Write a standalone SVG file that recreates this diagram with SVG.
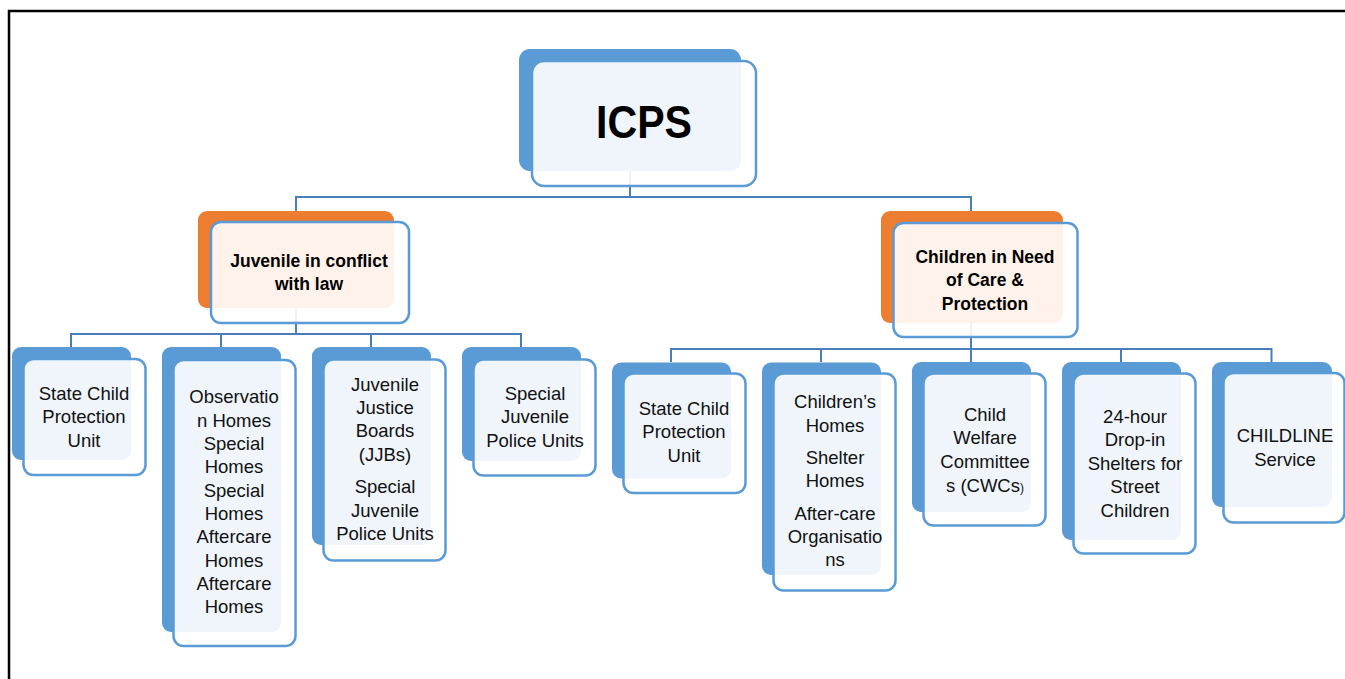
<svg xmlns="http://www.w3.org/2000/svg" width="1345" height="679" viewBox="0 0 1345 679">
  <style>
    .back-b { fill: #5b9bd5; }
    .back-o { fill: #ed7d31; }
    .front { fill: #ffffff; fill-opacity: 0.9; stroke: #5b9bd5; stroke-width: 2.5; }
    .conn { fill: none; stroke: #4a7ebb; stroke-width: 2; }
    .t { font-family: "Liberation Sans", Arial, sans-serif; font-size: 18.5px; fill: #111; text-anchor: middle; }
    .tb { font-family: "Liberation Sans", Arial, sans-serif; font-weight: bold; font-size: 17.5px; fill: #000; text-anchor: middle; }
    .title { font-family: "Liberation Sans", Arial, sans-serif; font-weight: bold; font-size: 47px; fill: #000; text-anchor: middle; }
  </style>

  <rect width="1345" height="679" fill="#ffffff"/>
  <!-- page frame -->
  <path d="M9,679 V11 H1345" fill="none" stroke="#000" stroke-width="2.5"/>

  <!-- connectors -->
  <g id="connectors" class="conn">
    <path d="M630,171 V197"/>
    <path d="M296,211 V197 H971 V211"/>
    <path d="M296,308 V334"/>
    <path d="M71,347 V334 H521 V347"/>
    <path d="M221,334 V347"/>
    <path d="M371,334 V347"/>
    <path d="M971,323 V349"/>
    <path d="M671,362 V349 H1271.5 V362"/>
    <path d="M821,349 V362"/>
    <path d="M971,349 V362"/>
    <path d="M1121,349 V362"/>
  </g>

  <!-- root -->
  <g id="icps">
    <rect class="back-b" x="519" y="49" width="222" height="122" rx="11"/>
    <rect class="front" x="532" y="61" width="224" height="125" rx="12"/>
    <text class="title" x="644" y="138" textLength="96" lengthAdjust="spacingAndGlyphs">ICPS</text>
  </g>

  <!-- branch heads -->
  <g id="juvenile-conflict">
    <rect class="back-o" x="198" y="211" width="196" height="97" rx="9"/>
    <rect class="front" x="211" y="222" width="198" height="101" rx="10"/>
    <text class="tb" x="309" y="266.7">Juvenile in conflict</text>
    <text class="tb" x="309" y="290">with law</text>
  </g>

  <g id="children-need-care">
    <rect class="back-o" x="881" y="211" width="182" height="112" rx="9"/>
    <rect class="front" x="893.5" y="223" width="184" height="114" rx="10"/>
    <text class="tb" x="985" y="262.7">Children in Need</text>
    <text class="tb" x="985" y="286">of Care &amp;</text>
    <text class="tb" x="985" y="310">Protection</text>
  </g>

  <!-- left branch -->
  <g id="l-scpu">
    <rect class="back-b" x="12" y="347" width="119" height="113" rx="9"/>
    <rect class="front" x="23.5" y="359" width="122" height="116" rx="10"/>
    <text class="t" x="84" y="400">State Child</text>
    <text class="t" x="84" y="423.3">Protection</text>
    <text class="t" x="84" y="446.7">Unit</text>
  </g>

  <g id="l-homes">
    <rect class="back-b" x="162" y="347" width="119" height="285" rx="9"/>
    <rect class="front" x="173.5" y="360" width="122" height="286" rx="10"/>
    <text class="t" x="234" y="403.3">Observatio</text>
    <text class="t" x="234" y="426.6">n Homes</text>
    <text class="t" x="234" y="450">Special</text>
    <text class="t" x="234" y="473.3">Homes</text>
    <text class="t" x="234" y="496.6">Special</text>
    <text class="t" x="234" y="520">Homes</text>
    <text class="t" x="234" y="543.3">Aftercare</text>
    <text class="t" x="234" y="566.6">Homes</text>
    <text class="t" x="234" y="590">Aftercare</text>
    <text class="t" x="234" y="613.3">Homes</text>
  </g>

  <g id="l-jjb">
    <rect class="back-b" x="312" y="347" width="119" height="198" rx="9"/>
    <rect class="front" x="323.5" y="359.5" width="122" height="201" rx="10"/>
    <text class="t" x="385" y="390.7">Juvenile</text>
    <text class="t" x="385" y="414">Justice</text>
    <text class="t" x="385" y="437.3">Boards</text>
    <text class="t" x="385" y="460.7">(JJBs)</text>
    <text class="t" x="385" y="493.3">Special</text>
    <text class="t" x="385" y="516.7">Juvenile</text>
    <text class="t" x="385" y="540">Police Units</text>
  </g>

  <g id="l-sjpu">
    <rect class="back-b" x="462" y="347" width="119" height="114" rx="9"/>
    <rect class="front" x="473.5" y="359.5" width="122" height="116" rx="10"/>
    <text class="t" x="535" y="400">Special</text>
    <text class="t" x="535" y="423.3">Juvenile</text>
    <text class="t" x="535" y="446.7">Police Units</text>
  </g>

  <!-- right branch -->
  <g id="r-scpu">
    <rect class="back-b" x="612" y="362.5" width="119" height="116" rx="9"/>
    <rect class="front" x="623.5" y="373.5" width="122" height="119.5" rx="10"/>
    <text class="t" x="684" y="415">State Child</text>
    <text class="t" x="684" y="438.3">Protection</text>
    <text class="t" x="684" y="461.7">Unit</text>
  </g>

  <g id="r-homes">
    <rect class="back-b" x="762" y="362.5" width="119" height="212.5" rx="9"/>
    <rect class="front" x="773.5" y="373.5" width="122" height="217" rx="10"/>
    <text class="t" x="835" y="408.3">Children’s</text>
    <text class="t" x="835" y="431.7">Homes</text>
    <text class="t" x="835" y="464">Shelter</text>
    <text class="t" x="835" y="487.3">Homes</text>
    <text class="t" x="835" y="520">After-care</text>
    <text class="t" x="835" y="543.3">Organisatio</text>
    <text class="t" x="835" y="566">ns</text>
  </g>

  <g id="r-cwc">
    <rect class="back-b" x="912" y="362" width="119" height="150" rx="9"/>
    <rect class="front" x="923.5" y="373.5" width="122" height="152" rx="10"/>
    <text class="t" x="985" y="421">Child</text>
    <text class="t" x="985" y="444.3">Welfare</text>
    <text class="t" x="985" y="468">Committee</text>
    <text class="t" x="985" y="491.7">s (CWCs<tspan font-size="12">)</tspan></text>
  </g>

  <g id="r-dropin">
    <rect class="back-b" x="1062" y="362" width="119" height="178" rx="9"/>
    <rect class="front" x="1073.5" y="373.5" width="122" height="180" rx="10"/>
    <text class="t" x="1135" y="422.5">24-hour</text>
    <text class="t" x="1135" y="446">Drop-in</text>
    <text class="t" x="1135" y="469.5">Shelters for</text>
    <text class="t" x="1135" y="493">Street</text>
    <text class="t" x="1135" y="516.5">Children</text>
  </g>

  <g id="r-childline">
    <rect class="back-b" x="1212" y="362" width="120" height="145" rx="9"/>
    <rect class="front" x="1223.5" y="373" width="121" height="149.5" rx="10"/>
    <text class="t" x="1285" y="441.7">CHILDLINE</text>
    <text class="t" x="1285" y="465.5">Service</text>
  </g>
</svg>
